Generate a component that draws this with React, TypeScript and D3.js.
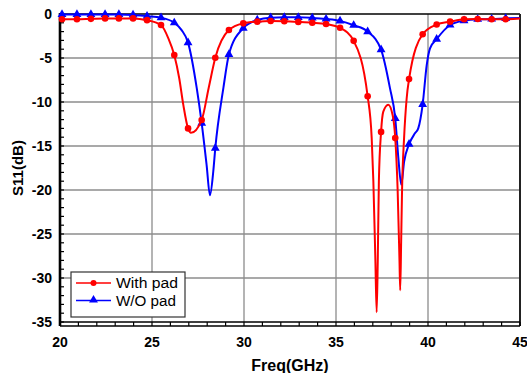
import React, { useEffect, useRef } from "react";
import * as d3 from "d3";

// tick values
const freqTicks = [20, 25, 30, 35, 40, 45];
const s11Ticks = [0, -5, -10, -15, -20, -25, -30, -35];

// marker frequencies (GHz), shared by both traces
const markerFreq = [
  20.11, 20.92, 21.68, 22.45, 23.2, 23.97, 24.73, 25.49, 26.21, 26.96, 27.7,
  28.44, 29.18, 29.96, 30.72, 31.45, 32.19, 32.95, 33.71, 34.46, 35.22, 35.96,
  36.72, 37.45, 38.22, 38.97, 39.71, 40.47, 41.2, 41.96, 42.7, 43.46, 44.22,
];

// S11 at marker frequencies
const withPadMarks = [
  -0.6, -0.6, -0.55, -0.5, -0.5, -0.5, -0.7, -1.25, -4.66, -13.0, -12.05,
  -4.97, -1.82, -1.06, -0.87, -0.8, -0.83, -0.9, -0.99, -1.14, -1.57, -3.05,
  -9.35, -13.4, -14.1, -7.4, -2.3, -1.2, -0.87, -0.6, -0.57, -0.6, -0.6,
];
const woPadMarks = [
  -0.05, -0.05, -0.05, -0.05, -0.05, -0.1, -0.25, -0.42, -1.0, -3.25, -12.4,
  -15.25, -4.6, -1.6, -0.68, -0.42, -0.38, -0.38, -0.45, -0.57, -0.78, -1.28,
  -2.0, -4.05, -11.86, -14.8, -10.27, -2.85, -1.25, -0.76, -0.6, -0.57, -0.5,
];

// extra trace points between markers (resonance details)
const withPadExtra: [number, number][] = [
  [20.0, -0.6], [25.89, -2.77], [26.48, -7.3], [26.7, -10.3], [27.12, -13.5],
  [28.08, -8.4], [36.94, -14.1], [37.03, -19], [37.14, -28], [37.21, -33.9],
  [37.27, -28], [37.33, -19], [37.57, -11.1], [37.84, -10.3], [38.08, -11.5],
  [38.35, -20], [38.45, -28], [38.49, -31.4], [38.54, -26], [38.59, -20],
  [38.7, -14.1], [38.84, -9.6], [45.0, -0.5],
];
const woPadExtra: [number, number][] = [
  [20.0, -0.05], [26.6, -1.8], [27.43, -8.4], [27.97, -17.2], [28.15, -20.6],
  [28.33, -17.9], [28.88, -8.4], [37.93, -8.4], [38.39, -16.4], [38.55, -19.4],
  [38.7, -16.8], [39.29, -13.56], [39.47, -13.0], [39.93, -5.8], [40.11, -3.9],
  [45.0, -0.45],
];

const W = 527;
const H = 373;
const margin = { top: 14, right: 7, bottom: 51, left: 60 };

export default function App() {
  const ref = useRef<SVGSVGElement>(null);

  useEffect(() => {
    const svg = d3.select(ref.current);
    svg.selectAll("*").remove();

    const x = d3.scaleLinear().domain([20, 45]).range([margin.left, W - margin.right]);
    const y = d3.scaleLinear().domain([0, -35]).range([margin.top, H - margin.bottom]);
    const x0 = x.range()[0], x1 = x.range()[1];
    const y0 = y.range()[0], y1 = y.range()[1];

    // grid
    const grid = svg.append("g").attr("stroke", "#8c8c8c").attr("stroke-width", 1.3);
    freqTicks.slice(1, -1).forEach((f) => {
      grid.append("line").attr("x1", x(f)).attr("x2", x(f)).attr("y1", y0).attr("y2", y1);
    });
    s11Ticks.slice(1, -1).forEach((v) => {
      grid.append("line").attr("x1", x0).attr("x2", x1).attr("y1", y(v)).attr("y2", y(v));
    });

    // frame
    svg.append("line").attr("x1", x0).attr("x2", x1).attr("y1", y0).attr("y2", y0)
      .attr("stroke", "#000").attr("stroke-width", 1.5);
    svg.append("line").attr("x1", x1).attr("x2", x1).attr("y1", y0).attr("y2", y1 + 4)
      .attr("stroke", "#222").attr("stroke-width", 2);

    // left axis with inner minor ticks
    svg.append("line").attr("x1", x0).attr("x2", x0).attr("y1", y0 - 1).attr("y2", y1 + 4)
      .attr("stroke", "#000").attr("stroke-width", 2.6);
    d3.range(0, -36, -1).forEach((v) => {
      svg.append("line").attr("x1", x0).attr("x2", x0 + 4).attr("y1", y(v)).attr("y2", y(v))
        .attr("stroke", "#000").attr("stroke-width", 1.2);
    });

    // bottom axis (double line with ticks)
    svg.append("line").attr("x1", x0).attr("x2", x1).attr("y1", y1).attr("y2", y1)
      .attr("stroke", "#000").attr("stroke-width", 1.5);
    svg.append("line").attr("x1", x0).attr("x2", x1).attr("y1", y1 + 4).attr("y2", y1 + 4)
      .attr("stroke", "#000").attr("stroke-width", 1.5);
    d3.range(20, 46, 1).forEach((f) => {
      svg.append("line").attr("x1", x(f)).attr("x2", x(f)).attr("y1", y1).attr("y2", y1 + 4)
        .attr("stroke", "#000").attr("stroke-width", 1.2);
    });

    // tick labels
    const font = "'Liberation Sans', Arial, sans-serif";
    svg.append("g").selectAll("text").data(s11Ticks).join("text")
      .attr("x", 52).attr("y", (d) => y(d)).attr("dy", "0.36em")
      .attr("text-anchor", "end").attr("font-family", font).attr("font-weight", "bold")
      .attr("font-size", 14).text((d) => String(d));
    svg.append("g").selectAll("text").data(freqTicks).join("text")
      .attr("x", (d) => x(d)).attr("y", 347)
      .attr("text-anchor", "middle").attr("font-family", font).attr("font-weight", "bold")
      .attr("font-size", 14).text((d) => String(d));

    // axis titles
    svg.append("text").attr("x", (x0 + x1) / 2).attr("y", 371).attr("text-anchor", "middle")
      .attr("font-family", font).attr("font-weight", "bold").attr("font-size", 16)
      .text("Freq(GHz)");
    svg.append("text").attr("transform", `translate(23, ${(y0 + y1) / 2}) rotate(-90)`)
      .attr("text-anchor", "middle").attr("font-family", font).attr("font-weight", "bold")
      .attr("font-size", 15).text("S11(dB)");

    const line = d3.line<[number, number]>()
      .x((d) => x(d[0])).y((d) => y(d[1])).curve(d3.curveMonotoneX);

    const tri = d3.symbol().type(d3.symbolTriangle).size(34);

    const series = [
      { marks: woPadMarks, extra: woPadExtra, color: "#0000ff", shape: "tri" },
      { marks: withPadMarks, extra: withPadExtra, color: "#ff0000", shape: "circle" },
    ];

    series.forEach((s) => {
      const markPts: [number, number][] = markerFreq.map((f, i) => [f, s.marks[i]]);
      const pts = markPts.concat(s.extra).sort((a, b) => a[0] - b[0]);
      svg.append("path").attr("d", line(pts)).attr("fill", "none")
        .attr("stroke", s.color).attr("stroke-width", 2);
      const g = svg.append("g").attr("fill", s.color);
      if (s.shape === "circle") {
        g.selectAll("circle").data(markPts).join("circle")
          .attr("cx", (d) => x(d[0])).attr("cy", (d) => y(d[1])).attr("r", 3.3);
      } else {
        g.selectAll("path").data(markPts).join("path")
          .attr("d", tri).attr("transform", (d) => `translate(${x(d[0])},${y(d[1])})`);
      }
    });

    // legend
    const lg = svg.append("g");
    lg.append("rect").attr("x", 71).attr("y", 272).attr("width", 114).attr("height", 45)
      .attr("fill", "#fff").attr("stroke", "#333").attr("stroke-width", 1.2);
    const items = [
      { label: "With pad", color: "#ff0000", shape: "circle", yy: 283, len: 62 },
      { label: "W/O pad", color: "#0000ff", shape: "tri", yy: 300.5, len: 60 },
    ];
    items.forEach((it) => {
      lg.append("line").attr("x1", 76).attr("x2", 111).attr("y1", it.yy).attr("y2", it.yy)
        .attr("stroke", it.color).attr("stroke-width", 1.6);
      if (it.shape === "circle") {
        lg.append("circle").attr("cx", 93.5).attr("cy", it.yy).attr("r", 3).attr("fill", it.color);
      } else {
        lg.append("path").attr("d", tri).attr("fill", it.color)
          .attr("transform", `translate(93.5,${it.yy - 0.5})`);
      }
      lg.append("text").attr("x", 116).attr("y", it.yy + 5).attr("font-family", font)
        .attr("font-size", 14).attr("textLength", it.len).attr("lengthAdjust", "spacingAndGlyphs")
        .text(it.label);
    });
  }, []);

  return (
    <svg ref={ref} width={W} height={H}
      style={{ position: "absolute", left: 0, top: 0, background: "#fff" }} />
  );
}
